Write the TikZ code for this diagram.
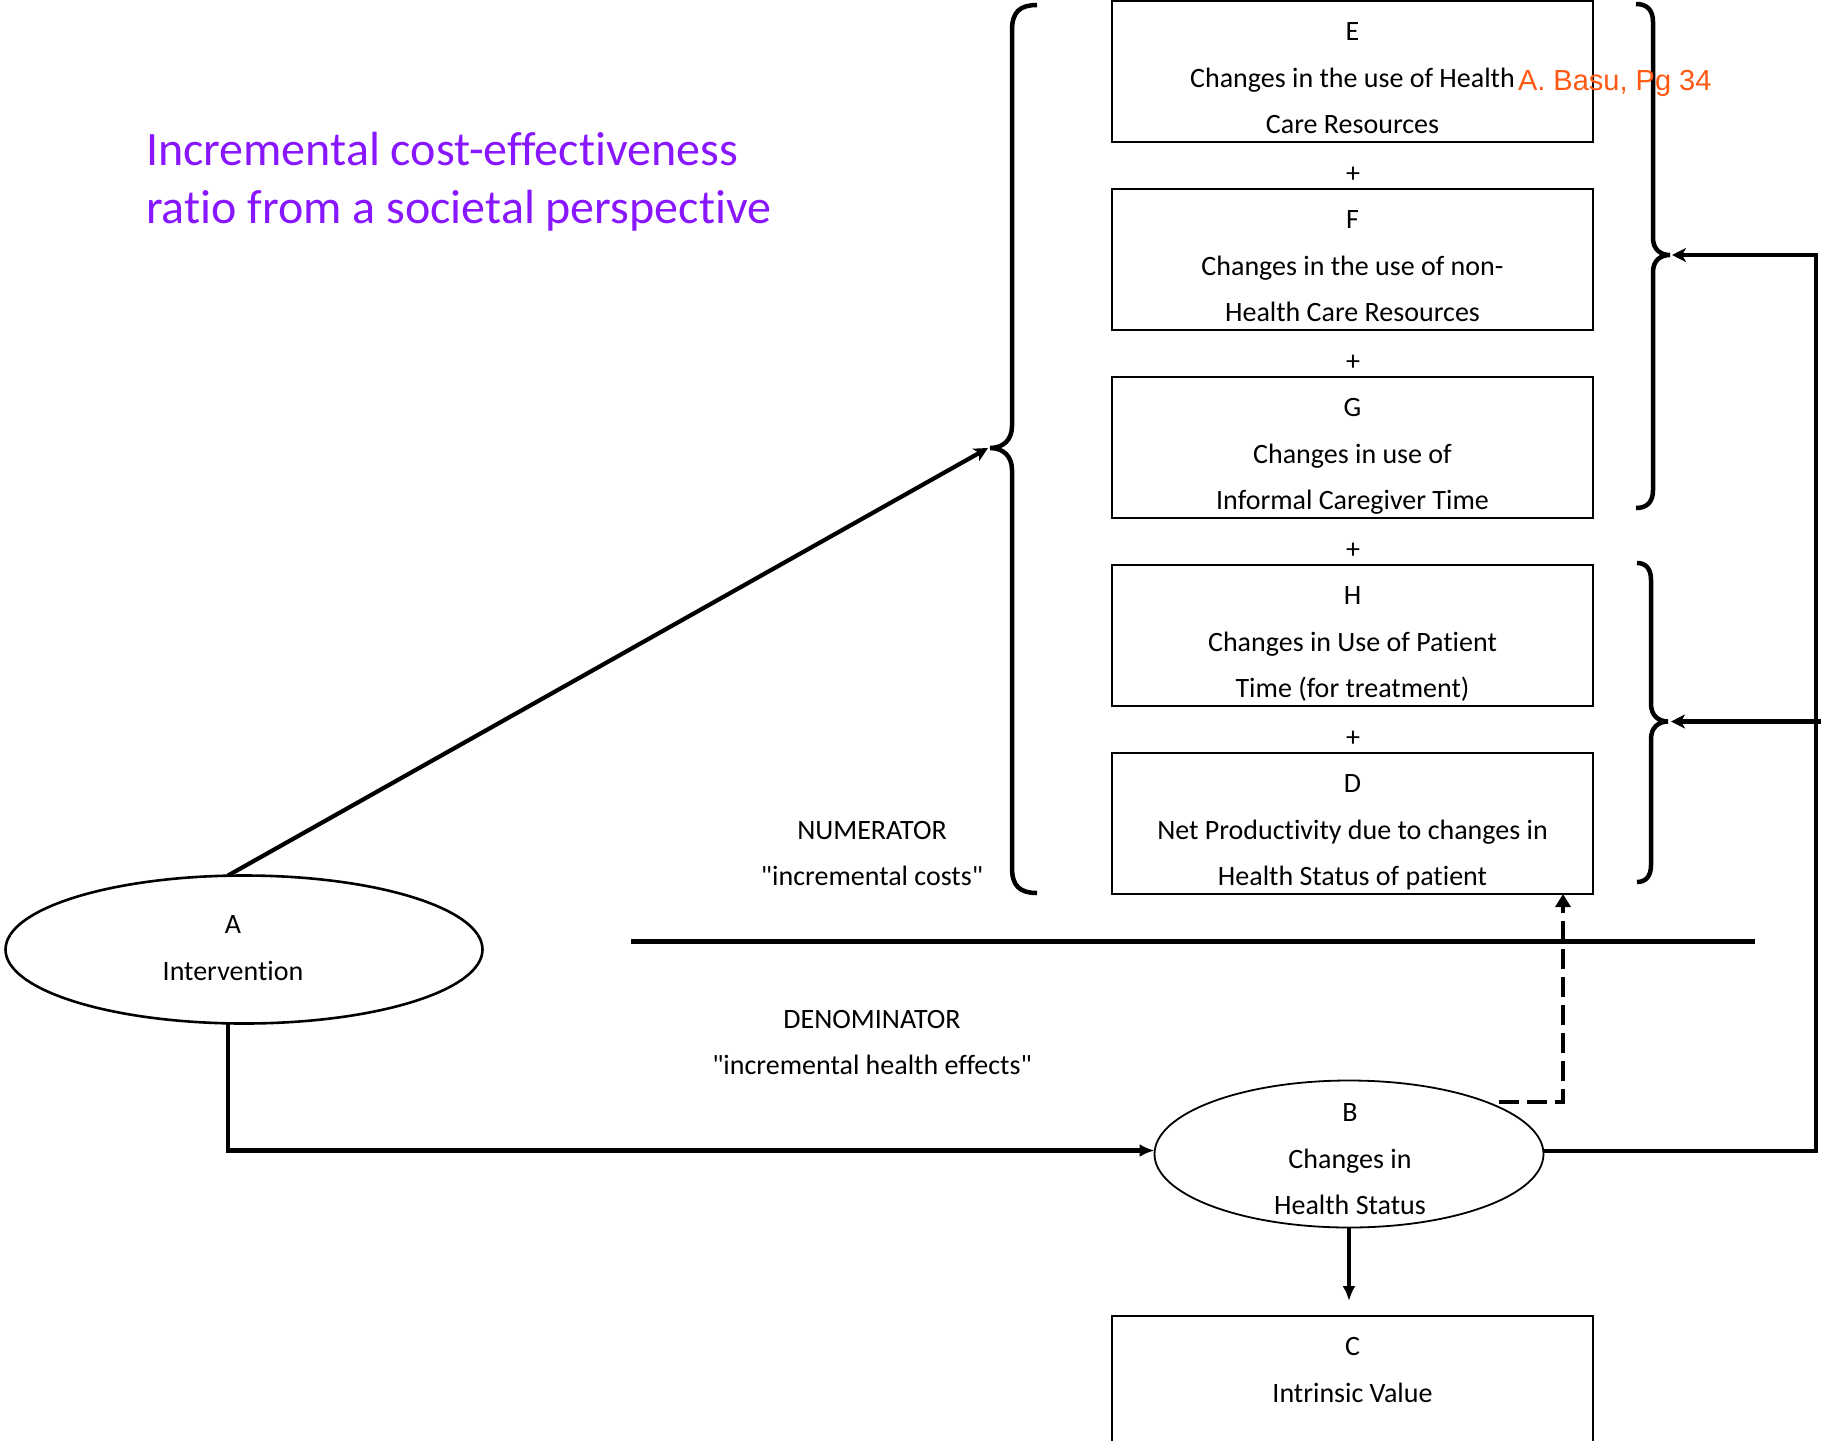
\documentclass[tikz,border=0pt]{standalone}
\usepackage{fontspec}
\setmainfont{Carlito}[Ligatures={TeXOff,NoCommon}]
\newfontfamily\notefont{Liberation Sans}
\usetikzlibrary{arrows.meta,shapes.geometric}
\definecolor{titleviolet}{RGB}{136,22,255}
\definecolor{noteorange}{RGB}{255,88,18}

% box and ellipse captions: every line gets a strut so spacing is uniform
\newcommand\threelines[3]{\strut#1\\\strut#2\\\strut#3}
\newcommand\twolines[2]{\strut#1\\\strut#2}

\begin{document}
\begin{tikzpicture}[x=1pt,y=-1pt,
  every node/.style={inner sep=0pt,outer sep=0pt},
  factorbox/.style={draw,line width=2.2pt,minimum width=481pt,minimum height=141pt,anchor=north west},
  bodytext/.style={align=center,font=\fontsize{28}{46.5}\selectfont},
  plusmark/.style={anchor=base,font=\fontsize{28}{46.5}\selectfont},
  conn/.style={line width=4.2pt},
  bracepath/.style={line width=4.5pt},
  barb/.style={-{Stealth[length=14pt,width=14pt,inset=4pt]}},
  solidtip/.style={-{Latex[length=15pt,width=13pt]}},
  dashtip/.style={-{Triangle[length=13pt,width=15pt]}}]

\useasboundingbox (0,0) rectangle (1825,1440);
\clip (0,0) rectangle (1825,1440);

% title
\node[anchor=north west,align=left,font=\fontsize{48}{58}\selectfont,text=titleviolet]
  (title) at (146,124.4) {\strut Incremental cost-effectiveness\\\strut ratio from a societal perspective};

% cost components
\node[factorbox] (E) at (1112,1) {};
\node[bodytext] (Et) at ([yshift=-6.2pt]E.center) {\threelines{E}{Changes in the use of Health}{Care Resources}};
\node[plusmark] (p1) at (1353,182.5) {+};
\node[factorbox] (F) at (1112,189) {};
\node[bodytext] (Ft) at ([yshift=-6.2pt]F.center) {\threelines{F}{Changes in the use of non-}{Health Care Resources}};
\node[plusmark] (p2) at (1353,370.5) {+};
\node[factorbox] (G) at (1112,377) {};
\node[bodytext] (Gt) at ([yshift=-6.2pt]G.center) {\threelines{G}{Changes in use of}{Informal Caregiver Time}};
\node[plusmark] (p3) at (1353,558.5) {+};
\node[factorbox] (H) at (1112,565) {};
\node[bodytext] (Ht) at ([yshift=-6.2pt]H.center) {\threelines{H}{Changes in Use of Patient}{Time (for treatment)}};
\node[plusmark] (p4) at (1353,746.5) {+};
\node[factorbox] (D) at (1112,753) {};
\node[bodytext] (Dt) at ([yshift=-6.2pt]D.center) {\threelines{D}{Net Productivity due to changes in}{Health Status of patient}};

% outcome box, running off the lower edge
\node[factorbox] (C) at (1112,1316) {};
\node[bodytext] (Ct) at ([yshift=-6.2pt]C.center) {\threelines{C}{Intrinsic Value}{}};

% ellipses
\node[draw,ellipse,line width=2.6pt,minimum width=477pt,minimum height=148pt] (A) at (244,949.5) {};
\node[bodytext] (At) at (233,947.5) {\twolines{A}{Intervention}};
\node[draw,ellipse,line width=1.8pt,minimum width=389pt,minimum height=147pt] (B) at (1349,1154) {};
\node[bodytext] (Bt) at (1350,1158.7) {\threelines{B}{Changes in}{Health Status}};

% ratio labels and fraction bar
\node[bodytext] (num) at (872,853) {\twolines{NUMERATOR}{"incremental costs"}};
\node[bodytext] (den) at (872,1042) {\twolines{DENOMINATOR}{"incremental health effects"}};
\coordinate (barL) at (631,941.5);
\coordinate (barR) at (1755,941.5);
\draw[line width=4.5pt] (barL) -- (barR);

% braces
\draw[bracepath] (1037,5) .. controls (1020,5) and (1012,12) .. (1012,30) -- (1012,426)
  .. controls (1012,440) and (1003,448) .. (990,448)
  .. controls (1003,448) and (1012,456) .. (1012,470) -- (1012,868)
  .. controls (1012,886) and (1020,893) .. (1037,893);
\draw[bracepath] (1636,4) .. controls (1647,4) and (1653,10) .. (1653,22) -- (1653,238)
  .. controls (1653,249) and (1660,255) .. (1670,255)
  .. controls (1660,255) and (1653,261) .. (1653,272) -- (1653,490)
  .. controls (1653,502) and (1647,508) .. (1636,508);
\draw[bracepath] (1637,563) .. controls (1646,563) and (1651,569) .. (1651,580) -- (1651,704)
  .. controls (1651,715) and (1658,721.5) .. (1668,721.5)
  .. controls (1658,721.5) and (1651,728) .. (1651,739) -- (1651,865)
  .. controls (1651,876) and (1646,882) .. (1637,882);

% connectors
\coordinate (tipL) at (988,448);
\coordinate (tipR1) at (1672,255);
\coordinate (tipR2) at (1671,721.5);
\coordinate (rtop) at (1816,255);
\coordinate (rmid) at (1821,721.5);
\coordinate (dk) at (1563,1102);

\draw[conn,barb] ([xshift=-16pt]A.north) -- (tipL);
\draw[conn,solidtip] ([xshift=-16pt]A.south) |- ([yshift=3.5pt]B.west);
\draw[conn,barb] ([yshift=3pt]B.east) -| (rtop) -- (tipR1);
\draw[conn,barb] (rmid) -- (tipR2);
\draw[conn,solidtip,shorten >=15pt] (B.south) -- (B.south |- C.north);
\draw[conn,dashtip,dash pattern=on 20pt off 8pt,shorten <=14pt] (B.21) -- (B.21 -| dk) -- (dk |- D.south);

% source note
\node[anchor=base west,font=\notefont\fontsize{29}{34}\selectfont,text=noteorange] (note) at (1518,90) {A. Basu, Pg 34};
\end{tikzpicture}
\end{document}
